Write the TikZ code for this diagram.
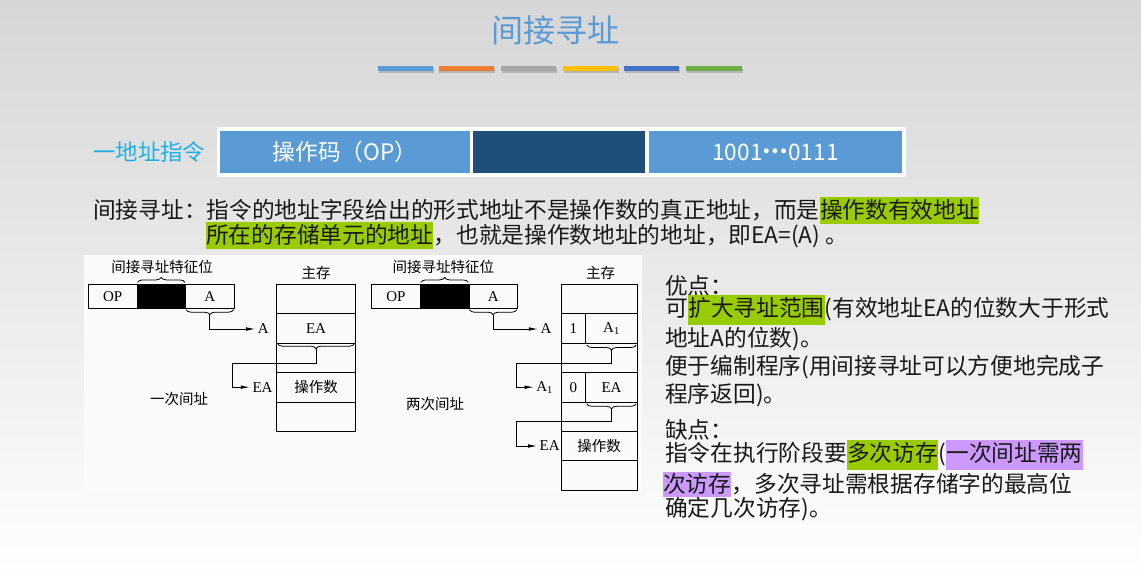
\documentclass[tikz,border=0pt]{standalone}
\usepackage{fontspec}
\setmainfont{Noto Sans CJK SC}
\newfontfamily\tms{Liberation Serif}
\usetikzlibrary{arrows.meta,decorations.pathreplacing,calc}
\definecolor{titleblue}{RGB}{91,155,213}
\definecolor{barorange}{RGB}{237,125,49}
\definecolor{bargray}{RGB}{165,165,165}
\definecolor{baryellow}{RGB}{255,192,0}
\definecolor{bardblue}{RGB}{68,114,196}
\definecolor{bargreen}{RGB}{112,173,71}
\definecolor{darkcell}{RGB}{31,78,121}
\definecolor{cyantext}{RGB}{30,176,230}
\definecolor{hlgreen}{RGB}{153,204,0}
\definecolor{hlpurple}{RGB}{204,153,255}
\definecolor{bgtop}{RGB}{214,214,214}
\definecolor{bgbot}{RGB}{254,254,254}
\definecolor{txt}{RGB}{25,25,25}
\definecolor{imgbg}{RGB}{250,250,250}
\tikzset{
  body/.style={font=\fontsize{22.7}{27}\selectfont, text=txt, inner sep=0pt, anchor=base west},
  hlA/.style={body, fill=#1, text height=21.4pt, text depth=5.4pt},
  hlB/.style={body, fill=#1, text height=22.1pt, text depth=7.9pt},
  hlC/.style={body, fill=#1, text height=20.8pt, text depth=4.2pt},
  hdrcell/.style={inner sep=0pt, minimum height=42pt, text=white, font=\fontsize{22.7}{27}\selectfont},
  dlbl/.style={font=\fontsize{14.5}{15}\selectfont, text=black, inner sep=0pt},
  dlat/.style={font=\tms\fontsize{15}{15}\selectfont, text=black, inner sep=2.5pt},
  icell/.style={draw=black, line width=0.8pt, minimum width=48.6pt, minimum height=24pt, inner sep=0pt, font=\tms\fontsize{15}{15}\selectfont},
  mcell/.style={draw=black, line width=0.8pt, minimum height=29.4pt, inner sep=0pt, font=\tms\fontsize{15}{15}\selectfont},
  bup/.style={decorate, decoration={brace, amplitude=5pt}, line width=0.8pt},
  bdown/.style={decorate, decoration={brace, mirror, amplitude=5pt}, line width=0.8pt},
  arr/.style={line width=0.8pt, -{Latex[length=9pt,width=3.6pt]}},
}
\begin{document}
\begin{tikzpicture}[x=1pt,y=-1pt]
\useasboundingbox (0,0) rectangle (1141,571);
\shade[top color=bgtop, bottom color=bgbot] (0,0) rectangle (1141,571);

% title
\node[font=\fontsize{32}{32}\selectfont, text=titleblue, inner sep=0pt] (title) at (555.5,30) {间接寻址};
% colour bars
\foreach \xa/\xb/\c in {378.3/433.3/titleblue, 438.5/494/barorange, 501/556/bargray, 562.7/618.3/baryellow, 624/679.3/bardblue, 686/741.7/bargreen}{
  \fill[black, opacity=0.18] (\xa+0.8,67.5) rectangle (\xb+0.8,73);
  \fill[\c] (\xa,65.7) rectangle (\xb,71);
}

% header instruction
\node[text=cyantext, font=\fontsize{22.4}{27}\selectfont, inner sep=0pt, anchor=west] (hdrlbl) at (93,152) {一地址指令};
\node[fill=white, minimum width=689.5pt, minimum height=50pt, inner sep=0pt] (frame) at (561.25,152) {};
\node[hdrcell, fill=titleblue, minimum width=250pt] (hc1) at (345,152) {操作码（OP）};
\node[hdrcell, fill=darkcell, minimum width=172pt] (hc2) at (559,152) {};
\node[hdrcell, fill=titleblue, minimum width=253pt] (hc3) at (775.5,152) {1001\raisebox{0.3em}{\textbf{…}}0111};

% definition text
\node[body] (d1a) at (93,218.6) {间接寻址：指令的地址字段给出的形式地址不是操作数的真正地址，而是};
\node[hlA=hlgreen] (d1b) at (d1a.base east) {操作数有效地址};
\node[hlA=hlgreen] (d2a) at (206,243.6) {所在的存储单元的地址};
\node[body] (d2b) at (d2a.base east) {，也就是操作数地址的地址，即EA=(A) 。};

% right column
\node[body] (r1) at (665,294.4) {优点：};
\node[body] (r2a) at (665,316.9) {可};
\node[hlB=hlgreen] (r2b) at (r2a.base east) {扩大寻址范围};
\node[body] (r2c) at (r2b.base east) {(有效地址EA的位数大于形式};
\node[body] (r3) at (665,346.1) {地址A的位数)。};
\node[body] (r4) at (665,374.6) {便于编制程序(用间接寻址可以方便地完成子};
\node[body] (r5) at (665,402.6) {程序返回)。};
\node[body] (r6) at (665,438.6) {缺点：};
\node[body] (r7a) at (665,461.6) {指令在执行阶段要};
\node[hlB=hlgreen] (r7b) at (r7a.base east) {多次访存};
\node[body] (r7c) at (r7b.base east) {(};
\node[hlB=hlpurple] (r7d) at (r7c.base east) {一次间址需两};
\node[hlC=hlpurple] (r8a) at (663,492.6) {次访存};
\node[body] (r8b) at (r8a.base east) {，多次寻址需根据存储字的最高位};
\node[body] (r9) at (665,516.6) {确定几次访存)。};

% image background
\fill[imgbg] (83.5,254.5) rectangle (642,494);

% ---------- diagram 1 ----------
\node[dlbl] (f1) at (162,267) {间接寻址特征位};
\node[icell] (op1) at (112.6,296.3) {OP};
\node[icell, fill=black] (b1) at (161.2,296.3) {};
\node[icell] (a1) at (209.8,296.3) {A};
\draw[bup] ($(b1.north west)+(1,-1.5)$) -- ($(b1.north east)+(-1,-1.5)$);
\draw[bdown] ($(a1.south west)+(1,1)$) -- ($(a1.south east)+(-1,1)$);
\coordinate (t1) at ($(a1.south)+(0,6)$);
\node[dlbl] (ms1) at (316,273) {主存};
\foreach \i/\yy in {1/299.0,2/328.4,3/357.8,4/387.2,5/416.6}{
  \node[mcell, minimum width=79pt] (m1r\i) at (316,\yy) {};
}
\node[font=\tms\fontsize{15}{15}\selectfont] (m1ea) at (m1r2) {EA};
\node[dlbl] (m1op) at (m1r4) {操作数};
\draw[bdown] ($(m1r3.north west)+(1.5,1)$) -- ($(m1r3.north east)+(-1.5,1)$);
\coordinate (t2) at ($(m1r3.north)+(0,6)$);
\node[dlat] (la1) at (263.3,329) {A};
\node[dlat] (lea1) at (262.5,387.2) {EA};
\coordinate (k1) at (232.3,363.3);
\draw[arr] (t1) |- (la1.west);
\draw[arr] (t2) |- (k1) |- (lea1.west);
\node[dlbl] (cap1) at (179,399) {一次间址};

% ---------- diagram 2 ----------
\node[dlbl] (f2) at (443.3,266.7) {间接寻址特征位};
\node[icell] (op2) at (396,296.3) {OP};
\node[icell, fill=black] (b2) at (444.6,296.3) {};
\node[icell] (a2) at (493.2,296.3) {A};
\draw[bup] ($(b2.north west)+(1,-1.5)$) -- ($(b2.north east)+(-1,-1.5)$);
\draw[bdown] ($(a2.south west)+(1,1)$) -- ($(a2.south east)+(-1,1)$);
\coordinate (t3) at ($(a2.south)+(0,6)$);
\node[dlbl] (ms2) at (600.7,273.3) {主存};
\foreach \i/\yy in {1/299.0,3/357.8,5/416.6,6/446.0,7/475.4}{
  \node[mcell, minimum width=76.3pt] (m2r\i) at (599.2,\yy) {};
}
\node[mcell, minimum width=24.7pt] (m2r2a) at (573.35,328.4) {1};
\node[mcell, minimum width=51.6pt] (m2r2b) at (611.5,328.4) {A\textsubscript{1}};
\node[mcell, minimum width=24.7pt] (m2r4a) at (573.35,387.2) {0};
\node[mcell, minimum width=51.6pt] (m2r4b) at (611.5,387.2) {EA};
\node[dlbl] (m2op) at (m2r6) {操作数};
\draw[bdown] ($(m2r2b.south west)+(1.5,1.5)$) -- ($(m2r2b.south east)+(-1.5,1.5)$);
\coordinate (t4) at ($(m2r2b.south)+(0,6.5)$);
\draw[bdown] ($(m2r4b.south west)+(1.5,1.5)$) -- ($(m2r4b.south east)+(-1.5,1.5)$);
\coordinate (t5) at ($(m2r4b.south)+(0,6.5)$);
\node[dlat] (la2) at (546,329) {A};
\node[dlat] (la12) at (544.7,387.2) {A\textsubscript{1}};
\node[dlat] (lea2) at (549.7,446.0) {EA};
\coordinate (k2) at (516.7,363.3);
\coordinate (k3) at (516.7,421.7);
\draw[arr] (t3) |- (la2.west);
\draw[arr] (t4) |- (k2) |- (la12.west);
\draw[arr] (t5) |- (k3) |- (lea2.west);
\node[dlbl] (cap2) at (435,404) {两次间址};
\end{tikzpicture}
\end{document}
